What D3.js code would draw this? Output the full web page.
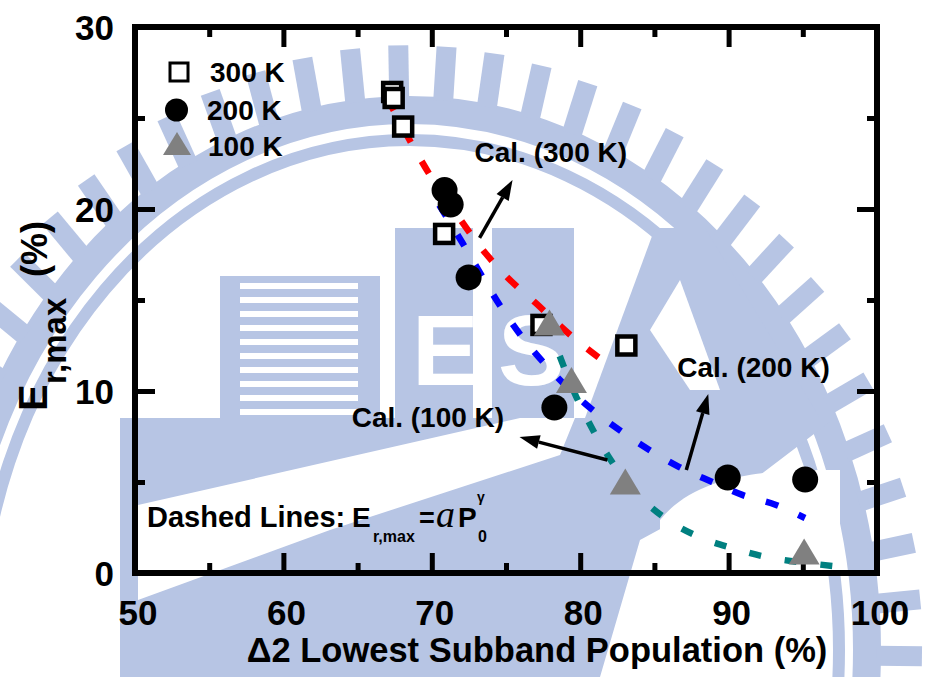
<!DOCTYPE html>
<meta charset="utf-8">
<style>
body { margin: 0; background: #fff; }
text { font-family: "Liberation Sans", Arial, sans-serif; font-weight: bold; fill: #000; }
.tick line { stroke: #000; stroke-width: 5; }
</style>
<body>
<script src="https://cdn.jsdelivr.net/npm/d3@7"></script>
<script>

// ---- data ----
// 300 K (open squares)
var p300 = [67.33, 67.43, 68.07, 70.83, 77.39, 83.11];
var e300 = [26.43, 26.1, 24.53, 18.63, 13.63, 12.5];
// 200 K (filled circles)
var p200 = [70.86, 71.27, 72.48, 78.26, 89.94, 95.16];
var e200 = [21.04, 20.25, 16.24, 9.09, 5.25, 5.14];
// 100 K (grey triangles)
var p100 = [77.93, 79.41, 83.04, 95.09];
var e100 = [13.76, 10.6, 5.03, 1.18];

// dashed fit curves
var fitP300 = [67.0, 68.7, 70.0, 71.6, 73.1, 74.9, 77.05, 79.3, 81.8];
var fitE300 = [26.1, 23.5, 21.7, 19.8, 18.1, 16.4, 14.8, 13.1, 11.5];
var fitP200 = [70.5, 72.07, 73.42, 74.7, 76.24, 78.13, 80.28, 82.44, 84.66, 86.68, 88.9, 90.92, 93.2, 95.15];
var fitE200 = [20.22, 18.13, 16.26, 14.56, 12.8, 11.04, 9.34, 7.97, 6.76, 5.82, 5.0, 4.29, 3.74, 3.02];
var fitP100 = [77.79, 78.8, 79.74, 80.75, 81.97, 83.78, 85.8, 88.02, 90.24, 92.53, 94.75, 97.1];
var fitE100 = [13.79, 11.54, 9.67, 8.02, 6.32, 4.4, 2.97, 1.98, 1.37, 0.88, 0.6, 0.38];

var xMajor = [50, 60, 70, 80, 90, 100];
var xMinor = [55, 65, 75, 85, 95];
var yMajor = [0, 10, 20, 30];
var yMinor = [5, 15, 25];

var legendLabels = ["300 K", "200 K", "100 K"];
var calLabels = ["Cal. (300 K)", "Cal. (200 K)", "Cal. (100 K)"];
// label anchor and arrow tail/tip, in data units
var calText = [[72.88, 22.58], [86.54, 10.77], [64.6, 8.02]];
var calTail = [[73.22, 18.41], [87.15, 5.66], [81.83, 6.21]];
var calTip  = [[75.44, 21.59], [88.63, 9.84], [75.91, 7.47]];

var W = 932, H = 677;
var x = d3.scaleLinear().domain([50, 100]).range([135, 877]);
var y = d3.scaleLinear().domain([0, 30]).range([573, 27]);

var svg = d3.select("body").append("svg")
    .attr("width", W).attr("height", H);

// ---- background watermark (rough) ----
var wm = "#b7c5e4";
var bg = svg.append("g");
var cx = 409, cy = 650, rx = 458, ry = 540;
bg.append("ellipse").attr("cx", cx).attr("cy", cy).attr("rx", rx).attr("ry", ry)
  .attr("fill", "none").attr("stroke", wm).attr("stroke-width", 28);
bg.append("ellipse").attr("cx", cx).attr("cy", cy).attr("rx", rx - 28).attr("ry", ry - 30)
  .attr("fill", "none").attr("stroke", wm).attr("stroke-width", 12);
d3.range(150, 392, 5.4).forEach(function(a) {
  var t = a * Math.PI / 180;
  bg.append("line")
    .attr("x1", cx + 1.02 * rx * Math.cos(t)).attr("y1", cy + 1.02 * ry * Math.sin(t))
    .attr("x2", cx + 1.12 * rx * Math.cos(t)).attr("y2", cy + 1.12 * ry * Math.sin(t))
    .attr("stroke", wm).attr("stroke-width", 20);
});
// hull and lower area
bg.append("path").attr("fill", wm)
  .attr("d", "M120,418 L835,418 L760,475 L640,540 L600,677 L120,677 Z");
bg.append("path").attr("fill", "#fff")
  .attr("d", "M138,505 L138,600 L330,530 L560,455 L575,418 L520,418 Z");
bg.append("path").attr("fill", "#fff")
  .attr("d", "M660,520 C700,470 780,470 840,470 L840,570 L660,570 Z");
// building blocks
bg.append("rect").attr("x", 220).attr("y", 276).attr("width", 160).attr("height", 142).attr("fill", wm);
d3.range(283, 410, 14).forEach(function(v) {
  bg.append("rect").attr("x", 240).attr("y", v).attr("width", 118).attr("height", 6).attr("fill", "#fff");
});
bg.append("rect").attr("x", 395).attr("y", 228).attr("width", 78).attr("height", 190).attr("fill", wm);
bg.append("rect").attr("x", 492).attr("y", 228).attr("width", 82).attr("height", 190).attr("fill", wm);
bg.append("text").attr("x", 412).attr("y", 385).style("font-size", "100px").style("fill", "#fff").text("E");
bg.append("text").attr("x", 498).attr("y", 385).style("font-size", "100px").style("fill", "#fff").text("S");
bg.append("path").attr("fill", wm)
  .attr("d", "M585,418 L655,228 L705,228 L820,418 Z");
bg.append("path").attr("fill", "#fff")
  .attr("d", "M650,330 L680,280 L720,390 L690,390 Z");

// ---- axes (ticks point inward) ----
function ticksOnly(axis, vals, size) {
  return axis.tickValues(vals).tickSize(size).tickFormat("");
}
var axes = [
  [function() { return d3.axisBottom(x); }, "translate(0,573)", xMajor, xMinor],
  [function() { return d3.axisTop(x); }, "translate(0,27)", xMajor, xMinor],
  [function() { return d3.axisLeft(y); }, "translate(135,0)", yMajor, yMinor],
  [function() { return d3.axisRight(y); }, "translate(877,0)", yMajor, yMinor]
];
axes.forEach(function(a) {
  var g1 = svg.append("g").attr("transform", a[1]).call(ticksOnly(a[0](), a[2], -20));
  g1.select(".domain").remove();
  var g2 = svg.append("g").attr("transform", a[1]).call(ticksOnly(a[0](), a[3], -10));
  g2.select(".domain").remove();
});
svg.append("rect")
  .attr("x", 135).attr("y", 27).attr("width", 877 - 135).attr("height", 573 - 27)
  .attr("fill", "none").attr("stroke", "#000").attr("stroke-width", 6);

// tick labels
svg.selectAll(".xl").data(xMajor).enter().append("text")
  .attr("x", function(d) { return x(d) + 3; }).attr("y", 625)
  .attr("text-anchor", "middle").style("font-size", "35px")
  .text(function(d) { return d; });
svg.selectAll(".yl").data(yMajor).enter().append("text")
  .attr("x", 114).attr("y", function(d) { return y(d) + 13; })
  .attr("text-anchor", "end").style("font-size", "35px")
  .text(function(d) { return d; });

// axis titles
svg.append("text").attr("x", 537).attr("y", 662).attr("text-anchor", "middle")
  .style("font-size", "34.5px").text("\u03942 Lowest Subband Population (%)");
var yl = svg.append("g").attr("transform", "rotate(-90)");
yl.append("text").attr("x", -411).attr("y", 47).style("font-size", "40px").text("E");
yl.append("text").attr("x", -384).attr("y", 66).style("font-size", "33px").text("r,max");
yl.append("text").attr("x", -277).attr("y", 47).style("font-size", "36px").text("(%)");

// ---- dashed fit lines ----
var line = d3.line().curve(d3.curveMonotoneX)
  .x(function(d) { return x(d[0]); }).y(function(d) { return y(d[1]); });
var fits = [
  [d3.zip(fitP300, fitE300), "#ff0000", "14,22"],
  [d3.zip(fitP200, fitE200), "#0000ff", "13,22"],
  [d3.zip(fitP100, fitE100), "#008080", "12,24"]
];
fits.forEach(function(f) {
  svg.append("path").datum(f[0]).attr("d", line)
    .attr("fill", "none").attr("stroke", f[1]).attr("stroke-width", 6.5)
    .attr("stroke-dasharray", f[2]);
});

// ---- markers ----
function tri(cxp, cyp, w, h) {
  return "M" + (cxp - w / 2) + "," + (cyp + h / 2) + "L" + (cxp + w / 2) + "," + (cyp + h / 2) +
         "L" + cxp + "," + (cyp - h / 2) + "Z";
}
svg.selectAll(".sq").data(d3.zip(p300, e300)).enter().append("rect")
  .attr("x", function(d) { return x(d[0]) - 9; }).attr("y", function(d) { return y(d[1]) - 9; })
  .attr("width", 18).attr("height", 18)
  .attr("fill", "#fff").attr("stroke", "#000").attr("stroke-width", 4.5);
svg.selectAll(".ci").data(d3.zip(p200, e200)).enter().append("circle")
  .attr("cx", function(d) { return x(d[0]); }).attr("cy", function(d) { return y(d[1]); })
  .attr("r", 13).attr("fill", "#000");
svg.selectAll(".tr").data(d3.zip(p100, e100)).enter().append("path")
  .attr("d", function(d) { return tri(x(d[0]), y(d[1]), 31, 26); })
  .attr("fill", "#808080");

// ---- legend ----
svg.append("rect").attr("x", 170).attr("y", 63).attr("width", 18).attr("height", 18)
  .attr("fill", "#fff").attr("stroke", "#000").attr("stroke-width", 3);
svg.append("circle").attr("cx", 176.5).attr("cy", 110).attr("r", 11.5).attr("fill", "#000");
svg.append("path").attr("d", tri(177, 143.5, 28, 23)).attr("fill", "#808080");
var legX = [210, 207, 208], legY = [82, 120, 156];
legendLabels.forEach(function(t, i) {
  svg.append("text").attr("x", legX[i]).attr("y", legY[i]).style("font-size", "28px").text(t);
});

// ---- Cal. annotations with arrows ----
calLabels.forEach(function(t, i) {
  svg.append("text").attr("x", x(calText[i][0])).attr("y", y(calText[i][1]))
    .style("font-size", "28px").text(t);
  var x1 = x(calTail[i][0]), y1 = y(calTail[i][1]);
  var x2 = x(calTip[i][0]), y2 = y(calTip[i][1]);
  var ang = Math.atan2(y2 - y1, x2 - x1), L = 20, hw = 7;
  var bx = x2 - L * Math.cos(ang), by = y2 - L * Math.sin(ang);
  svg.append("line").attr("x1", x1).attr("y1", y1).attr("x2", bx).attr("y2", by)
    .attr("stroke", "#000").attr("stroke-width", 3.5);
  svg.append("path").attr("fill", "#000")
    .attr("d", "M" + x2 + "," + y2 +
      "L" + (bx + hw * Math.sin(ang)) + "," + (by - hw * Math.cos(ang)) +
      "L" + (bx - hw * Math.sin(ang)) + "," + (by + hw * Math.cos(ang)) + "Z");
});

// ---- formula note ----
svg.append("text").attr("x", 147).attr("y", 527).style("font-size", "29px").text("Dashed Lines:");
svg.append("text").attr("x", 352).attr("y", 527).style("font-size", "28px").text("E");
svg.append("text").attr("x", 373).attr("y", 542).style("font-size", "16px").text("r,max");
svg.append("text").attr("x", 419).attr("y", 527).style("font-size", "27px").text("=");
svg.append("text").attr("x", 436).attr("y", 527)
  .style("font-family", "'Liberation Serif', 'Times New Roman', serif")
  .style("font-weight", "normal").style("font-style", "italic").style("font-size", "38px").text("a");
svg.append("text").attr("x", 458).attr("y", 527).style("font-size", "28px").text("P");
svg.append("text").attr("x", 477).attr("y", 502).style("font-size", "14px").text("\u03b3");
svg.append("text").attr("x", 478).attr("y", 542).style("font-size", "16px").text("0");

</script>
</body>
